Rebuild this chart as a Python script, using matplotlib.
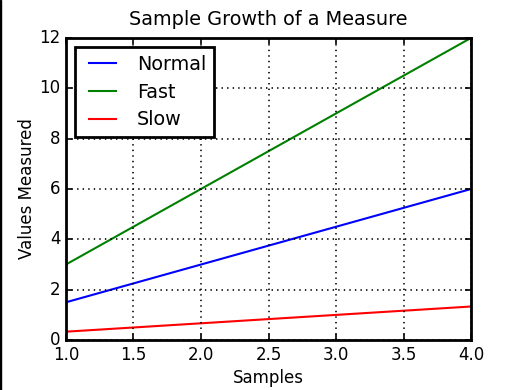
import matplotlib
matplotlib.use("Agg")
import matplotlib.pyplot as plt

samples = [1, 2, 3, 4]
normal = [1.5, 3.0, 4.5, 6.0]
fast = [3.0, 6.0, 9.0, 12.0]
slow = [1 / 3, 2 / 3, 1.0, 4 / 3]

plt.style.use('classic')
plt.rcParams['axes.linewidth'] = 2
plt.rcParams['lines.linewidth'] = 1.5
plt.rcParams['xtick.major.width'] = 1.2
plt.rcParams['ytick.major.width'] = 1.2
plt.rcParams['grid.linewidth'] = 1.2

fig = plt.figure(figsize=(5.23, 3.9), dpi=100)
ax = fig.add_axes([0.126, 0.128, 0.775, 0.775])

ax.plot(samples, normal, color='b', label='Normal')
ax.plot(samples, fast, color='g', label='Fast')
ax.plot(samples, slow, color='r', label='Slow')

ax.set_title('Sample Growth of a Measure', fontsize=13.9, y=1.02)
ax.set_xlabel('Samples', labelpad=4)
ax.set_ylabel('Values Measured', labelpad=2.5)
ax.grid(True, linestyle=':', color='k')
leg = ax.legend(loc='upper left', fontsize=13.8, labelspacing=0.45)
leg.get_frame().set_linewidth(2)

# thin dark strip on the left edge like the reference
fig.patches.append(plt.Rectangle((0, 0), 0.002, 1, transform=fig.transFigure,
                                 color='black', zorder=10))

fig.savefig('out.png', dpi=100, facecolor='white')
